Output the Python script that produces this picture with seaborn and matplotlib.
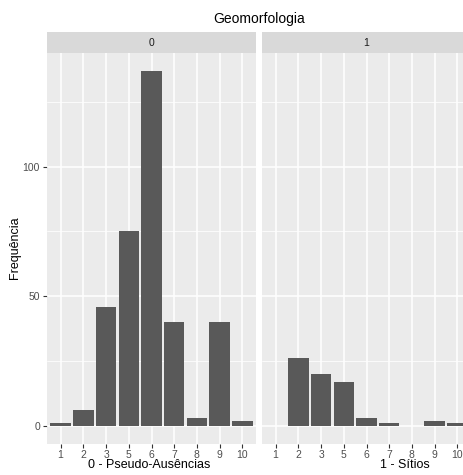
import matplotlib
matplotlib.use("Agg")
import matplotlib.pyplot as plt
import seaborn as sns
import pandas as pd

# Geomorphology class counts, per group
classes = ["1", "2", "3", "5", "6", "7", "8", "9", "10"]
pseudo_ausencias = [1, 6, 46, 75, 137, 40, 3, 40, 2]
sitios = [0, 26, 20, 17, 3, 1, 0, 2, 1]
facet_labels = ["0", "1"]
y_ticks = [0, 50, 100]
y_minor = [25, 75, 125]

df = pd.DataFrame({
    "classe": classes * 2,
    "freq": pseudo_ausencias + sitios,
    "grupo": [facet_labels[0]] * len(classes) + [facet_labels[1]] * len(classes),
})

sns.set_theme(style="darkgrid")
plt.rcParams["font.family"] = ["Liberation Sans", "DejaVu Sans"]

W, H = 464, 475
fig = plt.figure(figsize=(W / 100, H / 100), dpi=100)

def fx(px):
    return px / W

def fy(py):
    return 1 - py / H

panel_top, panel_bot = 53, 443.5
strip_top = 32
lefts = [47, 262]
pw = 209

bg = "#EBEBEB"
strip_bg = "#D9D9D9"
txt_gray = "#4D4D4D"
tick_col = "#333333"

ymax = max(pseudo_ausencias + sitios)
ylim = (-0.05 * ymax, ymax * 1.05)

axes = []
for i, g in enumerate(facet_labels):
    ax = fig.add_axes([fx(lefts[i]), fy(panel_bot), fx(pw), (panel_bot - panel_top) / H])
    sub = df[df["grupo"] == g]
    sns.barplot(data=sub, x="classe", y="freq", order=classes, color="#595959",
                saturation=1, width=0.9, errorbar=None, edgecolor="none", ax=ax, zorder=3)
    ax.set_facecolor(bg)
    for s in ax.spines.values():
        s.set_visible(False)
    ax.set_xlim(-0.6, len(classes) - 1 + 0.6)
    ax.set_ylim(*ylim)
    ax.set_yticks(y_ticks)
    ax.set_yticks(y_minor, minor=True)
    ax.grid(False)
    for yv in y_ticks:
        ax.axhline(yv, color="white", lw=1.1, zorder=1)
    for yv in y_minor:
        ax.axhline(yv, color="white", lw=0.55, zorder=1)
    for xv in range(len(classes)):
        ax.axvline(xv, color="white", lw=1.1, zorder=1)
    ax.tick_params(axis="both", which="major", length=3, width=0.8, color=tick_col,
                   labelcolor=txt_gray, labelsize=7.5, pad=2, direction="out",
                   bottom=True, left=True)
    ax.tick_params(axis="y", which="minor", length=0)
    ax.set_xlabel("")
    ax.set_ylabel("")
    if i == 1:
        ax.tick_params(axis="y", which="both", left=False, labelleft=False)
    # facet strip
    sax = fig.add_axes([fx(lefts[i]), fy(panel_top), fx(pw), (panel_top - strip_top) / H])
    sax.set_facecolor(strip_bg)
    sax.grid(False)
    sax.set_xticks([])
    sax.set_yticks([])
    for s in sax.spines.values():
        s.set_visible(False)
    sax.text(0.5, 0.5, g, ha="center", va="center", fontsize=7.5, color="#1A1A1A",
             transform=sax.transAxes)
    axes.append(ax)

fig.text(fx(15), fy(248), "Frequência", ha="center", va="center", rotation=90,
         fontsize=9, color="black")
fig.text(fx(149), fy(465), "0 - Pseudo-Ausências", ha="center", va="center", fontsize=9, color="black")
fig.text(fx(405), fy(465), "1 - Sítios", ha="center", va="center", fontsize=9, color="black")
fig.text(fx(259), fy(19), "Geomorfologia", ha="center", va="center", fontsize=10, color="black")

fig.savefig("out.png", dpi=100, facecolor="white")
